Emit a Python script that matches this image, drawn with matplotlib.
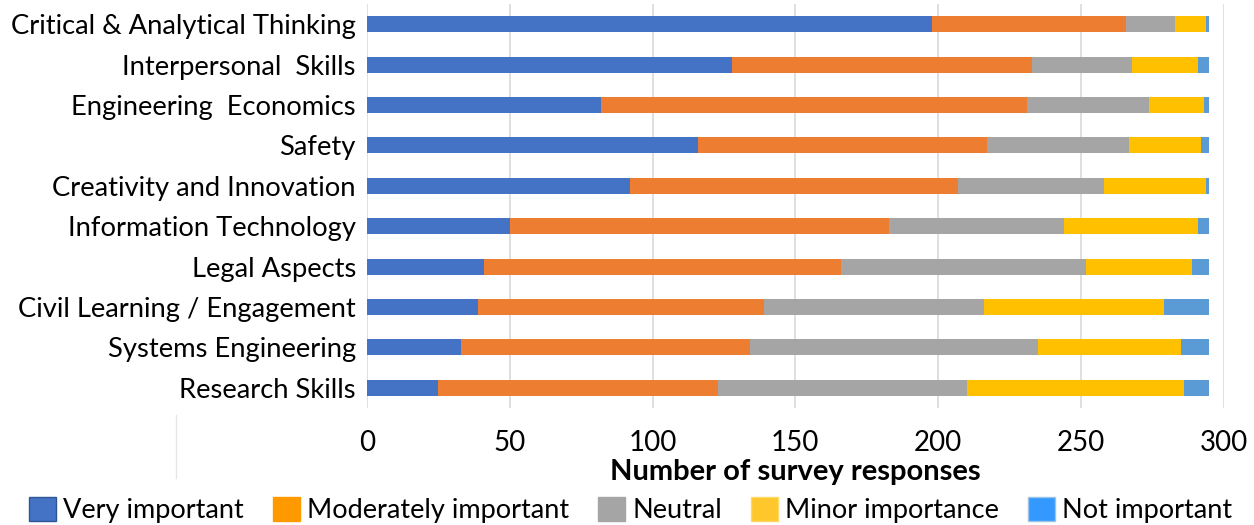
import matplotlib.pyplot as plt
from matplotlib.patches import Patch
from matplotlib.lines import Line2D

plt.rcParams['font.family'] = ['Lato', 'DejaVu Sans']

skills = ['Critical & Analytical Thinking', 'Interpersonal  Skills', 'Engineering  Economics',
          'Safety', 'Creativity and Innovation', 'Information Technology', 'Legal Aspects',
          'Civil Learning / Engagement', 'Systems Engineering', 'Research Skills']

very_important = [198, 128, 82, 116, 92, 50, 41, 39, 33, 25]
moderately_important = [68, 105, 149, 101, 115, 133, 125, 100, 101, 98]
neutral = [17, 35, 43, 50, 51, 61, 86, 77, 101, 87]
minor_importance = [11, 23, 19, 25, 36, 47, 37, 63, 50, 76]
not_important = [1, 4, 2, 3, 1, 4, 6, 16, 10, 9]

series_names = ['Very important', 'Moderately important', 'Neutral', 'Minor importance', 'Not important']
bar_colors = ['#4472C4', '#ED7D31', '#A5A5A5', '#FFC000', '#5B9BD5']
legend_colors = ['#4472C4', '#FF9900', '#A5A5A5', '#FFC72C', '#3399FF']
legend_edges = ['#2F5597', '#FF9900', '#A5A5A5', '#FFD966', '#9DC3E6']

fig = plt.figure(figsize=(12.54, 5.25), dpi=100)
ax = fig.add_axes([0.2927, 0.2229, 0.9757 - 0.2927, 0.9924 - 0.2229])

ypos = list(range(len(skills)))
left = [0] * len(skills)
for vals, col in zip([very_important, moderately_important, neutral, minor_importance, not_important], bar_colors):
    ax.barh(ypos, vals, left=left, height=0.4, color=col, zorder=3)
    left = [l + v for l, v in zip(left, vals)]

ax.set_ylim(9.5, -0.5)
ax.set_xlim(0, 300)
ax.set_xticks([0, 50, 100, 150, 200, 250, 300])
ax.set_yticks(ypos)
ax.set_yticklabels(skills, fontsize=19.7)
ax.tick_params(axis='y', length=0, pad=8)
ax.tick_params(axis='x', length=0, pad=16, labelsize=20)
ax.grid(axis='x', color='#D9D9D9', linewidth=1.2, zorder=0)
for s in ax.spines.values():
    s.set_visible(False)

ax.set_xlabel('Number of survey responses', fontsize=21, fontweight='bold', labelpad=2)

# stray thin line left of the axis label
fig.add_artist(Line2D([176 / 1254, 176 / 1254], [1 - 415 / 525, 1 - 478 / 525],
                      color='#E6E6E6', linewidth=1))

handles = [Patch(facecolor=c, edgecolor=e, linewidth=1) for c, e in zip(legend_colors, legend_edges)]
fig.legend(handles, series_names, loc='center', bbox_to_anchor=(0.503, 0.028), ncol=5,
           frameon=False, fontsize=19.5, handlelength=1.0, handleheight=1.0,
           handletextpad=0.25, columnspacing=1.08, borderaxespad=0)

fig.savefig('out.png', dpi=100)
